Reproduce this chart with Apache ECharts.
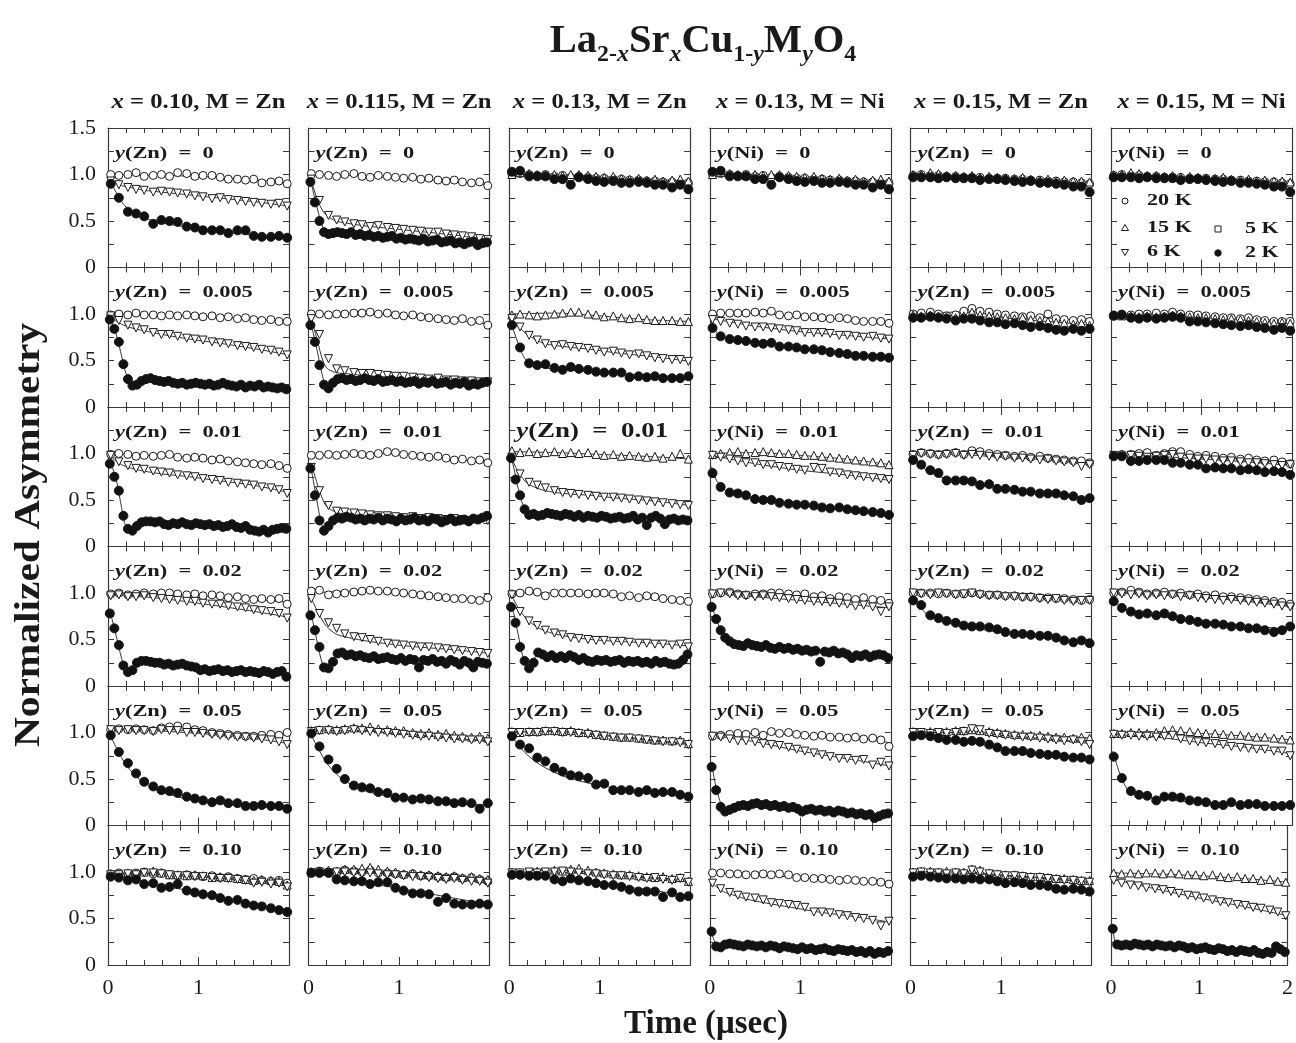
<!DOCTYPE html>
<html><head><meta charset="utf-8">
<script src="https://cdn.jsdelivr.net/npm/echarts@6/dist/echarts.min.js"></script>
<style>html,body{margin:0;padding:0;background:#fff}#c{width:1296px;height:1043px}</style>
</head><body><div id="c"></div><script>
// ---------- time grids (µs) ----------
const tS = [0.03,0.12,0.22,0.31,0.40,0.50,0.59,0.68,0.77,0.87,0.96,1.05,1.15,1.24,1.33,1.43,1.52,1.61,1.70,1.80,1.89,1.98];
const tD = [0.02,0.07,0.12,0.17,0.22,0.27,0.32,0.37,0.42,0.47,0.52,0.57,0.62,0.67,0.72,0.77,0.82,0.87,0.92,0.97,1.02,1.07,1.12,1.17,1.22,1.27,1.32,1.37,1.42,1.47,1.52,1.57,1.62,1.67,1.72,1.77,1.82,1.87,1.92,1.97];
const tF = [0.02,0.05,0.1,0.15,0.2,0.3,0.4,0.6,0.9,1.2,1.6,2.0];
const tF5 = [0.02,0.5,1.0,1.5,2.0];

const colTitles = [['0.10','Zn'],['0.115','Zn'],['0.13','Zn'],['0.13','Ni'],['0.15','Zn'],['0.15','Ni']];
const rowY = ['0','0.005','0.01','0.02','0.05','0.10'];
const yTickLabels = {0:'0', 0.5:'0.5', 1:'1.0', 1.5:'1.5'};
const xTickLabels = {0:'0', 1:'1', 2:'2'};

// ---------- data: x=0.10, Zn ----------
const p00_20=[1.00,0.99,1.00,1.02,0.98,0.99,1.00,0.98,1.02,1.01,0.98,0.99,0.99,0.97,0.95,0.95,0.94,0.95,0.91,0.92,0.93,0.90];
const p00_20f=[1.00,0.99,0.98,0.95,0.91];
const p00_6=[0.93,0.89,0.86,0.84,0.83,0.81,0.82,0.81,0.80,0.79,0.77,0.76,0.74,0.75,0.73,0.72,0.71,0.70,0.69,0.68,0.69,0.66];
const p00_6f=[0.95,0.93,0.90,0.88,0.87,0.85,0.83,0.81,0.78,0.75,0.71,0.66];
const p00_2=[0.90,0.75,0.60,0.58,0.55,0.47,0.51,0.50,0.49,0.44,0.43,0.40,0.40,0.40,0.37,0.40,0.40,0.34,0.33,0.33,0.34,0.32];
const p00_2f=[0.95,0.88,0.79,0.71,0.65,0.58,0.53,0.48,0.43,0.39,0.35,0.32];
const p01_20=[0.99,1.00,0.99,1.01,0.99,0.99,0.98,0.99,0.98,0.99,0.98,0.97,0.98,0.96,0.97,0.95,0.96,0.94,0.93,0.94,0.92,0.92];
const p01_20f=[1.00,0.99,0.98,0.95,0.92];
const p01_6=[0.98,0.93,0.88,0.85,0.83,0.80,0.78,0.78,0.76,0.74,0.73,0.72,0.70,0.69,0.68,0.66,0.65,0.64,0.62,0.61,0.59,0.56];
const p01_6f=[0.99,0.96,0.92,0.89,0.87,0.84,0.82,0.78,0.73,0.69,0.63,0.56];
const p01_2=[0.94,0.84,0.70,0.46,0.30,0.23,0.24,0.28,0.30,0.31,0.29,0.28,0.27,0.28,0.26,0.25,0.26,0.24,0.25,0.26,0.25,0.24,0.25,0.23,0.24,0.26,0.24,0.23,0.22,0.24,0.21,0.23,0.22,0.24,0.21,0.22,0.21,0.20,0.21,0.19];
const p01_2f=[0.96,0.90,0.75,0.55,0.36,0.22,0.29,0.28,0.26,0.25,0.22,0.20];
const p02_20=[0.99,1.00,0.99,0.97,0.98,0.97,0.98,0.99,0.96,0.95,0.96,0.95,0.93,0.94,0.92,0.91,0.90,0.89,0.88,0.89,0.87,0.84];
const p02_20f=[1.00,0.98,0.95,0.90,0.85];
const p02_6=[0.98,0.91,0.87,0.84,0.83,0.81,0.80,0.79,0.77,0.76,0.75,0.73,0.72,0.71,0.69,0.68,0.67,0.66,0.64,0.63,0.61,0.57];
const p02_6f=[0.99,0.95,0.91,0.88,0.86,0.83,0.81,0.78,0.75,0.71,0.66,0.58];
const p02_2=[0.89,0.75,0.60,0.33,0.19,0.17,0.22,0.26,0.27,0.27,0.26,0.27,0.24,0.23,0.25,0.24,0.26,0.24,0.23,0.25,0.24,0.23,0.24,0.22,0.23,0.21,0.22,0.24,0.21,0.20,0.22,0.18,0.17,0.16,0.18,0.15,0.18,0.19,0.20,0.19];
const p02_2f=[0.93,0.85,0.68,0.42,0.22,0.20,0.26,0.25,0.24,0.22,0.19,0.19];
const p03_20=[0.99,1.00,0.98,0.99,1.00,0.99,1.00,1.00,0.99,0.98,0.99,0.97,0.98,0.97,0.95,0.96,0.94,0.93,0.94,0.93,0.94,0.88];
const p03_20f=[1.00,0.99,0.97,0.94,0.90];
const p03_6=[0.97,0.98,0.96,0.96,0.97,0.95,0.94,0.93,0.92,0.91,0.91,0.89,0.88,0.88,0.86,0.85,0.84,0.82,0.81,0.80,0.78,0.73];
const p03_6f=[0.98,0.95,0.89,0.82,0.74];
const p03_2=[0.78,0.62,0.44,0.22,0.15,0.17,0.25,0.27,0.27,0.26,0.25,0.25,0.23,0.24,0.22,0.23,0.24,0.22,0.21,0.20,0.17,0.18,0.16,0.17,0.18,0.16,0.17,0.15,0.16,0.17,0.15,0.16,0.15,0.14,0.16,0.15,0.13,0.15,0.16,0.10];
const p03_2f=[0.80,0.70,0.50,0.30,0.17,0.22,0.25,0.23,0.20,0.17,0.15,0.14];
const p04_20=[1.03,1.04,1.03,1.04,1.03,1.02,1.05,1.06,1.07,1.06,1.03,1.02,1.00,0.99,0.98,0.97,0.96,0.96,0.97,0.98,0.97,1.00];
const p04_20f=[1.04,1.04,1.01,0.98,0.97];
const p04_6=[1.03,1.02,1.03,1.02,1.02,1.01,1.03,1.02,1.02,1.00,1.00,0.99,0.98,0.97,0.96,0.95,0.95,0.94,0.93,0.92,0.90,0.87];
const p04_6f=[1.03,1.02,0.99,0.95,0.88];
const p04_2=[0.97,0.79,0.67,0.56,0.47,0.42,0.38,0.37,0.35,0.31,0.29,0.27,0.25,0.27,0.24,0.24,0.21,0.21,0.22,0.21,0.21,0.18];
const p04_2f=[1.00,0.92,0.82,0.73,0.65,0.54,0.46,0.36,0.28,0.24,0.21,0.19];
const p05_20=[0.98,0.99,0.98,0.99,1.00,0.98,0.99,0.97,0.96,0.97,0.96,0.95,0.96,0.94,0.95,0.93,0.92,0.93,0.91,0.90,0.91,0.88];
const p05_20f=[0.99,0.98,0.95,0.92,0.88];
const p05_15=[0.97,0.98,0.99,0.98,1.00,1.01,0.99,0.97,0.97,0.96,0.97,0.96,0.94,0.95,0.94,0.93,0.92,0.91,0.92,0.91,0.90,0.86];
const p05_15f=[0.98,0.99,0.96,0.92,0.87];
const p05_6=[0.97,0.97,0.98,0.97,0.99,0.99,0.98,0.97,0.96,0.96,0.95,0.95,0.94,0.93,0.93,0.92,0.91,0.88,0.89,0.87,0.88,0.84];
const p05_6f=[0.97,0.98,0.95,0.91,0.85];
const p05_2=[0.95,0.94,0.91,0.92,0.87,0.88,0.83,0.84,0.87,0.80,0.78,0.76,0.75,0.72,0.69,0.70,0.66,0.64,0.63,0.61,0.59,0.57];
const p05_2f=[0.96,0.96,0.95,0.94,0.93,0.91,0.89,0.85,0.80,0.74,0.66,0.58];

// ---------- data: x=0.115, Zn ----------
const p10_20=[1.01,1.00,0.99,0.98,1.00,1.01,0.98,0.97,0.99,0.98,0.97,0.96,0.97,0.95,0.96,0.94,0.93,0.94,0.92,0.91,0.92,0.88];
const p10_20f=[1.00,0.99,0.96,0.93,0.89];
const p10_6=[0.95,0.72,0.56,0.51,0.49,0.47,0.46,0.44,0.45,0.43,0.42,0.41,0.40,0.39,0.38,0.38,0.36,0.35,0.34,0.33,0.31,0.30];
const p10_6f=[0.97,0.87,0.72,0.62,0.56,0.50,0.48,0.45,0.42,0.39,0.35,0.30];
const p10_2=[0.92,0.70,0.50,0.38,0.36,0.37,0.38,0.37,0.36,0.38,0.35,0.36,0.34,0.35,0.33,0.34,0.32,0.33,0.34,0.31,0.32,0.30,0.31,0.30,0.29,0.31,0.28,0.29,0.30,0.27,0.28,0.29,0.26,0.27,0.25,0.27,0.28,0.24,0.26,0.27];
const p10_2f=[0.95,0.82,0.62,0.45,0.38,0.37,0.36,0.34,0.32,0.30,0.28,0.27];
const p11_20=[1.00,1.00,0.99,1.00,1.00,1.01,1.01,1.02,1.00,1.01,0.99,0.98,0.99,0.97,0.96,0.95,0.94,0.93,0.95,0.92,0.93,0.88];
const p11_20f=[1.00,1.01,0.98,0.94,0.89];
const p11_6=[0.95,0.78,0.52,0.41,0.39,0.37,0.36,0.36,0.35,0.34,0.33,0.33,0.32,0.31,0.30,0.31,0.29,0.29,0.28,0.28,0.27,0.27];
const p11_6f=[0.96,0.88,0.70,0.52,0.42,0.37,0.36,0.34,0.32,0.30,0.28,0.27];
const p11_2=[0.88,0.70,0.45,0.24,0.20,0.26,0.30,0.31,0.29,0.30,0.28,0.29,0.31,0.29,0.28,0.30,0.27,0.28,0.29,0.27,0.28,0.26,0.27,0.28,0.25,0.27,0.26,0.28,0.25,0.26,0.27,0.24,0.26,0.25,0.27,0.23,0.25,0.24,0.26,0.27];
const p11_2f=[0.92,0.80,0.58,0.35,0.21,0.29,0.30,0.28,0.27,0.27,0.26,0.26];
const p12_20=[0.98,0.98,0.99,0.98,0.99,1.00,0.99,0.98,1.00,1.02,1.01,0.99,0.98,0.97,0.96,0.97,0.95,0.93,0.94,0.92,0.93,0.90];
const p12_20f=[0.98,0.99,1.00,0.95,0.90];
const p12_6=[0.85,0.60,0.44,0.38,0.37,0.36,0.35,0.34,0.33,0.33,0.32,0.31,0.32,0.30,0.31,0.30,0.29,0.30,0.29,0.28,0.29,0.28];
const p12_6f=[0.90,0.82,0.66,0.52,0.43,0.37,0.35,0.33,0.32,0.31,0.29,0.28];
const p12_2=[0.84,0.55,0.28,0.17,0.22,0.28,0.31,0.30,0.32,0.31,0.29,0.30,0.28,0.30,0.29,0.31,0.28,0.30,0.29,0.27,0.30,0.28,0.29,0.31,0.28,0.29,0.27,0.30,0.29,0.26,0.28,0.30,0.27,0.28,0.29,0.27,0.30,0.29,0.31,0.33];
const p12_2f=[0.88,0.72,0.45,0.22,0.20,0.30,0.31,0.29,0.29,0.29,0.29,0.30];
const p13_20=[1.02,1.03,0.98,0.99,1.00,1.01,1.02,1.03,1.02,1.02,1.01,1.00,0.99,0.98,0.97,0.96,0.95,0.94,0.94,0.93,0.92,0.95];
const p13_20f=[1.00,1.02,1.00,0.96,0.93];
const p13_6=[0.94,0.78,0.68,0.62,0.56,0.53,0.52,0.50,0.48,0.46,0.45,0.44,0.43,0.42,0.42,0.41,0.40,0.39,0.38,0.37,0.36,0.35];
const p13_6f=[0.97,0.90,0.80,0.71,0.64,0.56,0.53,0.49,0.45,0.42,0.39,0.35];
const p13_2=[0.76,0.60,0.42,0.20,0.19,0.26,0.35,0.36,0.33,0.34,0.32,0.33,0.31,0.30,0.32,0.29,0.30,0.31,0.29,0.28,0.30,0.27,0.29,0.28,0.20,0.28,0.27,0.29,0.26,0.27,0.24,0.28,0.26,0.23,0.27,0.25,0.20,0.26,0.25,0.24];
const p13_2f=[0.80,0.68,0.45,0.25,0.20,0.32,0.33,0.31,0.29,0.28,0.27,0.25];
const p14_15=[1.02,1.03,1.04,1.03,1.04,1.05,1.05,1.06,1.04,1.03,1.02,1.02,1.00,0.99,1.00,0.98,0.99,0.97,0.96,0.95,0.96,0.94];
const p14_15f=[1.03,1.05,1.02,0.98,0.94];
const p14_6=[1.01,1.02,1.02,1.01,1.02,1.03,1.02,1.01,1.00,1.00,0.99,0.98,0.97,0.96,0.96,0.95,0.94,0.93,0.93,0.92,0.92,0.90];
const p14_6f=[1.02,1.02,0.99,0.95,0.90];
const p14_2=[0.99,0.85,0.71,0.61,0.50,0.43,0.41,0.40,0.36,0.35,0.30,0.30,0.28,0.29,0.28,0.26,0.26,0.24,0.25,0.24,0.18,0.24];
const p14_2f=[1.00,0.93,0.84,0.75,0.67,0.56,0.48,0.38,0.31,0.27,0.24,0.22];
const p15_20=[1.00,1.01,1.00,1.00,1.02,1.01,1.00,1.02,0.99,0.99,0.98,0.97,0.98,0.96,0.96,0.95,0.94,0.95,0.93,0.94,0.92,0.90];
const p15_20f=[1.00,1.01,0.98,0.95,0.90];
const p15_15=[1.00,1.01,1.02,1.01,1.03,1.03,1.04,1.05,1.03,1.01,1.00,0.98,0.99,0.97,0.97,0.96,0.95,0.96,0.94,0.95,0.93,0.92];
const p15_15f=[1.01,1.03,0.99,0.96,0.92];
const p15_6=[0.99,1.00,0.99,1.00,1.00,0.99,0.98,0.99,0.98,0.97,0.97,0.96,0.95,0.95,0.94,0.93,0.92,0.93,0.91,0.90,0.90,0.88];
const p15_6f=[0.99,0.99,0.97,0.93,0.88];
const p15_2=[0.99,0.99,0.99,0.92,0.91,0.90,0.90,0.87,0.89,0.89,0.83,0.80,0.77,0.77,0.76,0.68,0.72,0.66,0.65,0.65,0.66,0.65];
const p15_2f=[0.99,0.99,0.98,0.97,0.96,0.94,0.92,0.89,0.84,0.79,0.72,0.65];

// ---------- data: x=0.13, Zn ----------
const p20_20=[1.00,1.01,1.00,0.99,1.00,0.98,0.99,0.97,0.98,0.97,0.96,0.96,0.95,0.95,0.94,0.94,0.93,0.93,0.92,0.92,0.91,0.91];
const p20_20f=[1.00,0.99,0.96,0.94,0.91];
const p20_15=[1.00,1.02,1.01,1.00,0.99,1.00,0.99,1.00,1.00,0.99,0.98,0.97,0.98,0.96,0.95,0.96,0.94,0.95,0.93,0.94,0.95,0.93];
const p20_15f=[1.01,1.00,0.98,0.95,0.93];
const p20_2=[1.03,1.04,0.98,0.98,0.98,0.95,0.95,0.89,0.97,0.95,0.93,0.92,0.93,0.91,0.91,0.92,0.91,0.89,0.89,0.86,0.89,0.84];
const p20_2f=[1.01,0.97,0.93,0.90,0.85];
const p21_15=[0.99,1.00,0.99,0.98,0.99,1.00,1.01,1.02,1.02,1.00,0.99,0.97,0.98,0.96,0.95,0.96,0.94,0.93,0.93,0.93,0.92,0.92];
const p21_15f=[1.00,1.01,0.98,0.94,0.92];
const p21_6=[0.95,0.86,0.77,0.72,0.68,0.66,0.67,0.65,0.64,0.63,0.61,0.59,0.60,0.58,0.56,0.57,0.55,0.53,0.52,0.51,0.51,0.49];
const p21_6f=[0.98,0.93,0.87,0.82,0.78,0.72,0.68,0.65,0.62,0.58,0.54,0.49];
const p21_2=[0.88,0.64,0.47,0.45,0.46,0.42,0.40,0.43,0.41,0.40,0.38,0.37,0.37,0.37,0.32,0.33,0.32,0.33,0.31,0.31,0.31,0.33];
const p21_2f=[0.92,0.82,0.68,0.56,0.49,0.44,0.42,0.40,0.38,0.36,0.34,0.32];
const p22_15=[1.03,1.01,1.02,1.00,1.01,1.02,1.00,1.01,1.00,1.01,0.99,0.98,0.99,0.97,0.98,0.97,0.96,0.97,0.95,0.97,1.00,0.94];
const p22_15f=[1.02,1.01,0.99,0.97,0.94];
const p22_6=[0.96,0.78,0.69,0.66,0.63,0.60,0.58,0.57,0.56,0.55,0.54,0.53,0.53,0.52,0.51,0.50,0.49,0.48,0.47,0.46,0.45,0.44];
const p22_6f=[0.98,0.90,0.80,0.73,0.68,0.63,0.60,0.57,0.55,0.52,0.49,0.44];
const p22_2=[0.95,0.72,0.55,0.40,0.34,0.35,0.33,0.34,0.36,0.35,0.34,0.33,0.35,0.34,0.32,0.34,0.31,0.33,0.32,0.31,0.33,0.32,0.30,0.31,0.32,0.30,0.31,0.33,0.29,0.31,0.23,0.31,0.33,0.30,0.24,0.29,0.30,0.28,0.29,0.28];
const p22_2f=[0.97,0.85,0.62,0.45,0.36,0.33,0.34,0.33,0.32,0.31,0.30,0.29];
const p23_20=[0.99,1.00,1.02,1.01,0.97,1.00,1.00,1.00,1.00,0.99,1.00,1.00,0.99,0.96,0.97,0.95,0.97,0.96,0.94,0.93,0.92,0.91];
const p23_20f=[1.00,1.00,0.98,0.95,0.91];
const p23_6=[0.98,0.80,0.70,0.65,0.60,0.57,0.55,0.52,0.51,0.50,0.49,0.49,0.48,0.48,0.47,0.46,0.46,0.45,0.45,0.44,0.45,0.42];
const p23_6f=[1.00,0.93,0.84,0.77,0.71,0.64,0.59,0.54,0.50,0.48,0.46,0.43];
const p23_2=[0.85,0.68,0.42,0.27,0.19,0.25,0.36,0.34,0.31,0.33,0.30,0.32,0.30,0.33,0.31,0.28,0.30,0.27,0.26,0.28,0.27,0.28,0.26,0.27,0.28,0.25,0.27,0.26,0.27,0.25,0.26,0.24,0.27,0.25,0.26,0.24,0.23,0.24,0.28,0.34];
const p23_2f=[0.88,0.78,0.55,0.32,0.22,0.32,0.33,0.30,0.28,0.27,0.25,0.24];
const p24_15=[1.01,1.00,1.01,1.01,1.02,1.02,1.01,1.02,1.00,1.00,0.98,0.97,0.96,0.95,0.95,0.94,0.93,0.92,0.92,0.91,0.92,0.88];
const p24_15f=[1.01,1.02,0.98,0.93,0.88];
const p24_6=[1.00,1.00,1.00,1.00,1.01,1.01,1.00,1.00,0.99,0.98,0.97,0.96,0.95,0.94,0.94,0.93,0.92,0.91,0.90,0.90,0.89,0.87];
const p24_6f=[1.00,1.01,0.97,0.92,0.87];
const p24_2=[0.96,0.87,0.83,0.73,0.69,0.62,0.58,0.54,0.53,0.51,0.44,0.45,0.38,0.38,0.38,0.36,0.38,0.35,0.36,0.36,0.33,0.31];
const p24_2f=[0.99,0.93,0.87,0.81,0.76,0.68,0.62,0.53,0.45,0.40,0.35,0.31];
const p25_15=[1.00,0.99,1.00,1.01,1.00,1.02,1.01,1.03,1.04,1.02,1.00,0.99,0.98,0.97,0.97,0.96,0.95,0.94,0.95,0.93,0.94,0.90];
const p25_15f=[1.00,1.02,0.99,0.95,0.91];
const p25_6=[0.99,0.99,1.00,0.99,1.00,1.00,1.01,1.00,0.99,0.98,0.98,0.97,0.96,0.96,0.95,0.94,0.93,0.94,0.92,0.91,0.93,0.89];
const p25_6f=[0.99,1.00,0.97,0.94,0.89];
const p25_2=[0.97,0.97,0.96,0.96,0.96,0.92,0.90,0.93,0.91,0.90,0.88,0.86,0.86,0.84,0.81,0.79,0.79,0.79,0.73,0.78,0.73,0.74];
const p25_2f=[0.98,0.98,0.97,0.97,0.96,0.95,0.94,0.92,0.89,0.85,0.80,0.74];

// ---------- data: x=0.13, Ni ----------
const p31_20=[1.00,1.01,1.01,1.01,1.01,1.02,1.01,1.03,0.99,0.98,0.99,0.97,0.97,0.96,0.95,0.96,0.95,0.93,0.92,0.92,0.92,0.90];
const p31_20f=[1.01,1.01,0.97,0.94,0.90];
const p31_6=[0.94,0.92,0.90,0.89,0.87,0.86,0.86,0.85,0.84,0.83,0.82,0.80,0.80,0.80,0.79,0.77,0.77,0.76,0.75,0.76,0.74,0.73];
const p31_6f=[0.95,0.87,0.81,0.77,0.73];
const p31_2=[0.85,0.76,0.73,0.72,0.71,0.69,0.68,0.69,0.65,0.65,0.64,0.62,0.62,0.61,0.59,0.58,0.57,0.55,0.55,0.54,0.54,0.53];
const p31_2f=[0.92,0.84,0.77,0.74,0.73,0.71,0.70,0.68,0.65,0.61,0.57,0.53];
const p32_15=[0.99,1.00,1.01,1.02,1.00,1.01,1.02,1.01,1.00,1.00,0.99,0.98,0.98,0.97,0.96,0.95,0.94,0.93,0.92,0.91,0.90,0.88];
const p32_15f=[1.00,1.01,0.98,0.94,0.88];
const p32_6=[0.98,0.96,0.94,0.92,0.90,0.90,0.88,0.88,0.86,0.85,0.83,0.82,0.85,0.84,0.80,0.79,0.77,0.76,0.75,0.74,0.73,0.72];
const p32_6f=[0.98,0.89,0.82,0.77,0.71];
const p32_2=[0.79,0.64,0.58,0.57,0.55,0.51,0.50,0.50,0.47,0.46,0.45,0.45,0.44,0.42,0.41,0.42,0.40,0.39,0.38,0.37,0.36,0.34];
const p32_2f=[0.86,0.76,0.67,0.62,0.59,0.56,0.53,0.49,0.45,0.42,0.38,0.34];
const p33_20=[0.99,1.00,1.01,0.99,0.98,0.99,0.99,1.00,1.00,0.99,0.98,0.99,0.96,0.97,0.94,0.96,0.95,0.93,0.95,0.93,0.92,0.89];
const p33_20f=[1.00,0.99,0.97,0.94,0.89];
const p33_6=[0.99,1.00,0.99,0.97,0.97,0.96,0.97,0.96,0.95,0.94,0.93,0.92,0.91,0.91,0.90,0.89,0.88,0.86,0.87,0.85,0.80,0.85];
const p33_6f=[1.00,0.96,0.92,0.88,0.84];
const p33_2=[0.85,0.72,0.60,0.52,0.48,0.45,0.44,0.43,0.46,0.44,0.43,0.42,0.44,0.41,0.40,0.42,0.40,0.41,0.39,0.40,0.38,0.39,0.37,0.38,0.26,0.37,0.36,0.38,0.35,0.36,0.34,0.30,0.33,0.32,0.34,0.31,0.33,0.34,0.33,0.30];
const p33_2f=[0.88,0.78,0.65,0.56,0.50,0.45,0.44,0.42,0.40,0.37,0.34,0.31];
const p34_20=[0.96,0.97,0.98,0.99,0.98,1.00,0.97,1.01,0.99,1.00,0.98,0.97,0.96,0.97,0.95,0.95,0.94,0.95,0.93,0.94,0.92,0.85];
const p34_20f=[0.97,0.99,0.97,0.95,0.89];
const p34_6=[0.96,0.95,0.93,0.91,0.91,0.90,0.88,0.87,0.86,0.84,0.82,0.80,0.78,0.76,0.74,0.72,0.72,0.70,0.71,0.65,0.68,0.64];
const p34_6f=[0.97,0.90,0.80,0.72,0.64];
const p34_2=[0.63,0.38,0.20,0.15,0.17,0.19,0.21,0.22,0.21,0.23,0.24,0.22,0.23,0.21,0.22,0.20,0.21,0.19,0.20,0.18,0.15,0.17,0.18,0.16,0.17,0.15,0.16,0.14,0.16,0.15,0.13,0.14,0.12,0.13,0.11,0.12,0.08,0.10,0.12,0.13];
const p34_2f=[0.68,0.50,0.30,0.18,0.17,0.20,0.21,0.20,0.18,0.15,0.13,0.12];
const p35_20=[0.99,0.99,0.98,0.98,0.97,0.97,0.98,0.97,0.98,0.97,0.94,0.94,0.93,0.93,0.92,0.91,0.92,0.91,0.90,0.90,0.89,0.87];
const p35_20f=[0.99,0.97,0.94,0.91,0.87];
const p35_6=[0.88,0.82,0.78,0.75,0.73,0.72,0.70,0.67,0.66,0.65,0.64,0.62,0.57,0.57,0.56,0.54,0.53,0.51,0.50,0.48,0.42,0.47];
const p35_6f=[0.89,0.86,0.82,0.79,0.77,0.74,0.71,0.67,0.62,0.57,0.52,0.46];
const p35_2=[0.36,0.20,0.19,0.22,0.23,0.22,0.21,0.20,0.22,0.21,0.20,0.21,0.19,0.21,0.20,0.18,0.20,0.19,0.18,0.17,0.19,0.17,0.18,0.16,0.17,0.18,0.16,0.15,0.17,0.16,0.15,0.16,0.14,0.15,0.13,0.15,0.12,0.14,0.13,0.15];
const p35_2f=[0.36,0.26,0.21,0.21,0.21,0.21,0.20,0.19,0.18,0.17,0.15,0.14];

// ---------- data: x=0.15, Zn ----------
const p40_20=[0.99,1.00,0.99,0.99,0.98,0.98,0.97,0.97,0.97,0.96,0.96,0.96,0.95,0.95,0.94,0.94,0.93,0.93,0.92,0.92,0.91,0.90];
const p40_20f=[0.99,0.98,0.96,0.93,0.90];
const p40_15=[1.00,1.00,1.02,1.01,0.99,0.99,0.98,0.99,0.97,0.98,0.97,0.96,0.96,0.97,0.95,0.94,0.95,0.93,0.94,0.93,0.93,0.92];
const p40_15f=[1.00,0.99,0.96,0.94,0.92];
const p40_2=[0.97,0.97,0.97,0.96,0.97,0.96,0.96,0.96,0.94,0.95,0.95,0.94,0.93,0.92,0.93,0.91,0.91,0.90,0.89,0.87,0.87,0.81];
const p40_2f=[0.98,0.96,0.94,0.91,0.84];
const p41_20=[1.00,1.01,1.02,1.00,0.98,0.99,1.03,1.06,1.03,1.02,1.00,0.99,0.98,0.97,0.98,0.96,1.00,0.95,0.94,0.93,0.94,0.92];
const p41_20f=[1.00,1.02,0.99,0.96,0.92];
const p41_15=[0.99,0.98,0.99,0.98,0.97,0.96,0.98,1.02,0.99,0.98,0.97,0.96,0.95,0.96,0.94,0.93,0.92,0.91,0.90,0.89,0.90,0.88];
const p41_15f=[0.99,0.98,0.96,0.92,0.88];
const p41_2=[0.96,0.96,0.97,0.96,0.95,0.93,0.95,0.95,0.93,0.91,0.91,0.89,0.90,0.88,0.86,0.87,0.85,0.83,0.82,0.84,0.82,0.84];
const p41_2f=[0.97,0.95,0.90,0.86,0.83];
const p42_20=[0.99,1.01,1.00,0.99,1.00,1.01,0.99,1.03,1.02,1.00,0.99,0.98,0.97,0.98,0.96,0.97,0.95,0.94,0.93,0.92,0.92,0.90];
const p42_20f=[1.00,1.01,0.98,0.95,0.90];
const p42_6=[0.98,1.00,0.99,0.98,0.99,1.00,0.98,0.99,0.98,0.97,0.96,0.97,0.95,0.95,0.94,0.93,0.94,0.92,0.91,0.90,0.86,0.88];
const p42_6f=[0.99,0.99,0.96,0.93,0.88];
const p42_2=[0.93,0.88,0.82,0.79,0.71,0.71,0.71,0.70,0.66,0.67,0.62,0.62,0.61,0.59,0.59,0.57,0.57,0.57,0.55,0.54,0.50,0.52];
const p42_2f=[0.96,0.93,0.88,0.84,0.81,0.76,0.73,0.69,0.64,0.60,0.56,0.51];
const p43_20=[1.00,1.00,1.00,0.99,1.00,0.99,0.99,1.00,0.99,0.98,0.98,0.97,0.97,0.96,0.96,0.95,0.95,0.94,0.94,0.93,0.92,0.93];
const p43_20f=[1.00,0.99,0.97,0.95,0.92];
const p43_6=[1.00,0.99,0.98,1.00,0.99,0.98,0.99,1.00,0.98,0.97,0.97,0.96,0.96,0.95,0.95,0.94,0.93,0.94,0.92,0.91,0.92,0.92];
const p43_6f=[1.00,0.99,0.96,0.94,0.91];
const p43_2=[0.92,0.87,0.76,0.73,0.70,0.68,0.65,0.64,0.64,0.63,0.61,0.58,0.56,0.56,0.55,0.54,0.54,0.52,0.49,0.47,0.49,0.46];
const p43_2f=[0.95,0.92,0.86,0.80,0.76,0.71,0.68,0.64,0.59,0.55,0.51,0.46];
const p44_15=[1.01,1.00,1.01,1.00,1.01,1.02,1.02,1.03,1.02,1.01,1.00,0.99,0.98,0.98,0.97,0.97,0.96,0.95,0.95,0.94,0.95,0.94];
const p44_15f=[1.01,1.02,0.99,0.97,0.94];
const p44_6=[1.00,1.00,0.99,1.00,0.99,1.00,1.01,1.04,1.03,0.99,0.98,0.97,0.96,0.95,0.95,0.94,0.93,0.92,0.91,0.92,0.90,0.87];
const p44_6f=[1.00,1.00,0.97,0.93,0.88];
const p44_2=[0.96,0.97,0.96,0.94,0.92,0.92,0.90,0.91,0.90,0.87,0.84,0.80,0.80,0.80,0.78,0.77,0.76,0.76,0.74,0.73,0.73,0.71];
const p44_2f=[0.98,0.92,0.83,0.76,0.71];
const p45_15=[1.00,1.01,1.01,1.00,1.01,1.00,1.00,1.03,1.02,0.99,0.98,0.97,0.97,0.96,0.95,0.95,0.94,0.93,0.93,0.92,0.91,0.91];
const p45_15f=[1.00,1.01,0.97,0.94,0.91];
const p45_6=[0.99,1.00,0.99,0.99,0.98,0.99,0.98,1.02,1.00,0.98,0.97,0.96,0.96,0.95,0.94,0.94,0.93,0.92,0.91,0.91,0.90,0.89];
const p45_6f=[0.99,0.99,0.96,0.93,0.89];
const p45_2=[0.95,0.96,0.95,0.94,0.93,0.93,0.92,0.93,0.92,0.92,0.90,0.88,0.89,0.88,0.86,0.86,0.85,0.82,0.81,0.82,0.81,0.79];
const p45_2f=[0.96,0.93,0.88,0.84,0.79];

// ---------- data: x=0.15, Ni ----------
const p51_20=[0.99,1.00,0.99,1.00,1.00,1.01,1.00,1.02,1.00,0.99,0.99,0.98,0.97,0.96,0.96,0.95,0.96,0.94,0.93,0.92,0.92,0.92];
const p51_20f=[1.00,1.00,0.98,0.95,0.92];
const p51_15=[0.99,0.98,0.98,0.97,0.98,0.97,0.98,0.99,0.98,0.97,0.96,0.96,0.95,0.94,0.95,0.94,0.93,0.92,0.91,0.90,0.91,0.90];
const p51_15f=[0.99,0.97,0.96,0.93,0.90];
const p51_2=[0.98,0.99,0.96,0.95,0.96,0.95,0.96,0.97,0.96,0.92,0.92,0.91,0.90,0.89,0.88,0.87,0.88,0.86,0.85,0.83,0.85,0.82];
const p51_2f=[0.98,0.96,0.91,0.87,0.83];
const p52_20=[0.98,0.99,0.99,1.00,1.01,0.98,1.00,1.02,1.02,0.99,0.97,0.98,0.97,0.95,0.96,0.94,0.95,0.93,0.92,0.93,0.91,0.89];
const p52_20f=[0.99,1.00,0.97,0.94,0.89];
const p52_6=[0.98,0.97,0.98,0.97,0.96,0.97,0.98,0.99,0.96,0.95,0.94,0.94,0.93,0.92,0.92,0.91,0.90,0.90,0.89,0.88,0.87,0.88];
const p52_6f=[0.98,0.97,0.94,0.91,0.87];
const p52_2=[0.97,0.97,0.92,0.92,0.93,0.93,0.93,0.90,0.90,0.88,0.88,0.84,0.85,0.84,0.84,0.82,0.83,0.82,0.80,0.81,0.80,0.77];
const p52_2f=[0.97,0.93,0.87,0.83,0.78];
const p53_20=[1.00,1.01,1.03,1.01,0.99,1.00,1.01,0.99,1.00,0.98,0.99,0.97,0.98,0.96,0.96,0.95,0.94,0.93,0.92,0.91,0.90,0.88];
const p53_20f=[1.01,1.00,0.98,0.94,0.88];
const p53_6=[1.00,0.99,0.98,0.99,0.97,0.98,0.97,0.98,0.96,0.97,0.95,0.94,0.93,0.92,0.93,0.92,0.91,0.90,0.89,0.88,0.86,0.85];
const p53_6f=[1.00,0.98,0.95,0.91,0.85];
const p53_2=[0.91,0.84,0.80,0.77,0.78,0.76,0.78,0.75,0.72,0.71,0.69,0.67,0.67,0.66,0.64,0.64,0.62,0.62,0.60,0.58,0.60,0.64];
const p53_2f=[0.94,0.90,0.86,0.83,0.81,0.79,0.77,0.74,0.71,0.68,0.64,0.61];
const p54_15=[0.99,0.99,1.00,1.00,0.99,1.00,1.02,1.03,1.02,1.01,1.00,0.99,0.99,0.98,0.97,0.97,0.96,0.95,0.95,0.94,0.93,0.92];
const p54_15f=[0.99,1.01,0.99,0.96,0.92];
const p54_6=[0.98,0.97,0.97,0.96,0.96,0.95,0.96,0.97,0.93,0.91,0.90,0.89,0.88,0.87,0.85,0.84,0.83,0.82,0.82,0.80,0.80,0.75];
const p54_6f=[0.98,0.95,0.89,0.84,0.77];
const p54_2=[0.74,0.51,0.37,0.33,0.32,0.27,0.31,0.31,0.30,0.27,0.26,0.25,0.22,0.22,0.25,0.22,0.23,0.23,0.21,0.21,0.21,0.22];
const p54_2f=[0.80,0.70,0.55,0.44,0.37,0.32,0.30,0.28,0.25,0.23,0.22,0.21];
const p55_15=[0.99,0.98,0.99,0.98,0.99,0.99,0.98,0.99,0.98,0.97,0.97,0.96,0.97,0.95,0.94,0.95,0.93,0.93,0.91,0.92,0.90,0.89];
const p55_15f=[0.99,0.98,0.96,0.93,0.89];
const p55_6=[0.91,0.88,0.86,0.85,0.83,0.82,0.81,0.79,0.77,0.75,0.74,0.72,0.70,0.68,0.67,0.65,0.64,0.62,0.61,0.59,0.57,0.53];
const p55_6f=[0.92,0.82,0.72,0.63,0.53];
const p55_2=[0.39,0.22,0.21,0.22,0.21,0.23,0.22,0.21,0.22,0.20,0.22,0.21,0.20,0.21,0.19,0.21,0.20,0.18,0.19,0.17,0.18,0.19,0.17,0.16,0.18,0.17,0.15,0.16,0.14,0.16,0.15,0.14,0.16,0.13,0.12,0.14,0.13,0.20,0.17,0.14];
const p55_2f=[0.40,0.24,0.21,0.21,0.21,0.21,0.21,0.20,0.18,0.17,0.15,0.14];

// panel contents [column][row] -> list of [temperature, points, fit]
const panelData = [
 [ [['K20',p00_20,p00_20f],['K6',p00_6,p00_6f],['K2',p00_2,p00_2f]],
   [['K20',p01_20,p01_20f],['K6',p01_6,p01_6f],['K2',p01_2,p01_2f]],
   [['K20',p02_20,p02_20f],['K6',p02_6,p02_6f],['K2',p02_2,p02_2f]],
   [['K20',p03_20,p03_20f],['K6',p03_6,p03_6f],['K2',p03_2,p03_2f]],
   [['K20',p04_20,p04_20f],['K6',p04_6,p04_6f],['K2',p04_2,p04_2f]],
   [['K20',p05_20,p05_20f],['K15',p05_15,p05_15f],['K6',p05_6,p05_6f],['K2',p05_2,p05_2f]] ],
 [ [['K20',p10_20,p10_20f],['K6',p10_6,p10_6f],['K2',p10_2,p10_2f]],
   [['K20',p11_20,p11_20f],['K6',p11_6,p11_6f],['K2',p11_2,p11_2f]],
   [['K20',p12_20,p12_20f],['K6',p12_6,p12_6f],['K2',p12_2,p12_2f]],
   [['K20',p13_20,p13_20f],['K6',p13_6,p13_6f],['K2',p13_2,p13_2f]],
   [['K15',p14_15,p14_15f],['K6',p14_6,p14_6f],['K2',p14_2,p14_2f]],
   [['K20',p15_20,p15_20f],['K15',p15_15,p15_15f],['K6',p15_6,p15_6f],['K2',p15_2,p15_2f]] ],
 [ [['K20',p20_20,p20_20f],['K15',p20_15,p20_15f],['K2',p20_2,p20_2f]],
   [['K15',p21_15,p21_15f],['K6',p21_6,p21_6f],['K2',p21_2,p21_2f]],
   [['K15',p22_15,p22_15f],['K6',p22_6,p22_6f],['K2',p22_2,p22_2f]],
   [['K20',p23_20,p23_20f],['K6',p23_6,p23_6f],['K2',p23_2,p23_2f]],
   [['K15',p24_15,p24_15f],['K6',p24_6,p24_6f],['K2',p24_2,p24_2f]],
   [['K15',p25_15,p25_15f],['K6',p25_6,p25_6f],['K2',p25_2,p25_2f]] ],
 [ [['K20',p20_20,p20_20f],['K15',p20_15,p20_15f],['K2',p20_2,p20_2f]],
   [['K20',p31_20,p31_20f],['K6',p31_6,p31_6f],['K2',p31_2,p31_2f]],
   [['K15',p32_15,p32_15f],['K6',p32_6,p32_6f],['K2',p32_2,p32_2f]],
   [['K20',p33_20,p33_20f],['K6',p33_6,p33_6f],['K2',p33_2,p33_2f]],
   [['K20',p34_20,p34_20f],['K6',p34_6,p34_6f],['K2',p34_2,p34_2f]],
   [['K20',p35_20,p35_20f],['K6',p35_6,p35_6f],['K2',p35_2,p35_2f]] ],
 [ [['K20',p40_20,p40_20f],['K15',p40_15,p40_15f],['K2',p40_2,p40_2f]],
   [['K20',p41_20,p41_20f],['K15',p41_15,p41_15f],['K2',p41_2,p41_2f]],
   [['K20',p42_20,p42_20f],['K6',p42_6,p42_6f],['K2',p42_2,p42_2f]],
   [['K20',p43_20,p43_20f],['K6',p43_6,p43_6f],['K2',p43_2,p43_2f]],
   [['K15',p44_15,p44_15f],['K6',p44_6,p44_6f],['K2',p44_2,p44_2f]],
   [['K15',p45_15,p45_15f],['K6',p45_6,p45_6f],['K2',p45_2,p45_2f]] ],
 [ [['K20',p40_20,p40_20f],['K15',p40_15,p40_15f],['K2',p40_2,p40_2f]],
   [['K20',p51_20,p51_20f],['K15',p51_15,p51_15f],['K2',p51_2,p51_2f]],
   [['K20',p52_20,p52_20f],['K6',p52_6,p52_6f],['K2',p52_2,p52_2f]],
   [['K20',p53_20,p53_20f],['K6',p53_6,p53_6f],['K2',p53_2,p53_2f]],
   [['K15',p54_15,p54_15f],['K6',p54_6,p54_6f],['K2',p54_2,p54_2f]],
   [['K15',p55_15,p55_15f],['K6',p55_6,p55_6f],['K2',p55_2,p55_2f]] ]
];

// ---------- layout & style ----------
const SERIF = 'Liberation Serif';
const G_LEFT = 108, G_STEP = 200.6, G_W = 181, G_TOP = 128, G_H = 139.5;
const INK = '#1a1a1a', AXIS = '#3a3a3a';
const STYLE = {
  K20:{symbol:'circle', size:8, fill:'#fff', rot:0},
  K15:{symbol:'triangle', size:8, fill:'#fff', rot:0},
  K6:{symbol:'triangle', size:8, fill:'#fff', rot:180},
  K2:{symbol:'circle', size:9, fill:'#111', rot:0}
};
const pts = v => v.map((y,i) => [(v.length===40?tD:tS)[i], y]);
const fitPts = v => v.map((y,i) => [(v.length===5?tF5:tF)[i], y]);

const grid=[], xAxis=[], yAxis=[], series=[], graphic=[];
for (let c=0;c<6;c++) for (let r=0;r<6;r++) {
  const g = grid.length;
  const L = G_LEFT + c*G_STEP, T = G_TOP + r*G_H;
  grid.push({left:L, top:T, width:G_W, height:G_H});
  const line = {show:true, onZero:false, lineStyle:{color:AXIS, width:1.2}};
  ['bottom','top'].forEach(pos => xAxis.push({
    gridIndex:g, type:'value', min:0, max:2, interval:1, position:pos,
    axisLine:line, splitLine:{show:false},
    axisTick:{show:true, inside:true, length:8, lineStyle:{color:AXIS}},
    minorTick:{show:true, splitNumber:5, length:5, lineStyle:{color:AXIS}},
    axisLabel:{show: pos==='bottom' && r===5, margin:12, fontFamily:SERIF, fontSize:22, color:INK,
      formatter: v => (v===2 && c<5) ? '' : xTickLabels[v]}
  }));
  ['left','right'].forEach(pos => yAxis.push({
    gridIndex:g, type:'value', min:0, max:1.5, interval:0.5, position:pos,
    axisLine:line, splitLine:{show:false},
    axisTick:{show:true, inside:true, length:6, lineStyle:{color:AXIS}},
    minorTick:{show:true, splitNumber:2, length:6, lineStyle:{color:AXIS}},
    axisLabel:{show: pos==='left' && c===0, margin:12, fontFamily:SERIF, fontSize:22, color:INK,
      formatter: v => (v===1.5 && r>0) ? '' : yTickLabels[v]}
  }));
  const list = panelData[c][r];
  list.forEach(([k,vals,fit]) => series.push({
    type:'line', xAxisIndex:2*g, yAxisIndex:2*g, data:fitPts(fit), showSymbol:false, smooth:0.3,
    lineStyle:{color:'#333', width:1}, silent:true, z:2, animation:false
  }));
  list.forEach(([k,vals]) => { const s = STYLE[k]; series.push({
    type:'scatter', xAxisIndex:2*g, yAxisIndex:2*g, data:pts(vals), symbol:s.symbol, symbolSize:s.size, symbolRotate:s.rot,
    itemStyle:{color:s.fill, borderColor:'#1a1a1a', borderWidth:1, opacity:1}, silent:true, z:k==='K2'?4:3, animation:false
  }); });
  // panel label
  const big = (c===2 && r===2);
  graphic.push({type:'text', x:L+7, y:T+25, scaleX:1.28, z:10, style:{
    text:'{i|y}{n|(' + colTitles[c][1] + ')  =  ' + rowY[r] + '}', verticalAlign:'middle',
    rich:{i:{fontFamily:SERIF, fontWeight:'bold', fontStyle:'italic', fontSize:big?21:17.5, fill:INK},
          n:{fontFamily:SERIF, fontWeight:'bold', fontSize:big?21:17.5, fill:INK}}}});
}

// column headers
colTitles.forEach(([x,m],c) => graphic.push({type:'text', x:G_LEFT + c*G_STEP + G_W/2, y:102, scaleX:1.12, style:{
  text:'{i|x}{n| = ' + x + ', M = ' + m + '}', align:'center', verticalAlign:'middle',
  rich:{i:{fontFamily:SERIF, fontWeight:'bold', fontStyle:'italic', fontSize:22, fill:INK},
        n:{fontFamily:SERIF, fontWeight:'bold', fontSize:22, fill:INK}}}}));

// main title
graphic.push({type:'text', x:703, y:42, scaleX:1.04, style:{
  text:'{b|La}{s|2-}{si|x}{b|Sr}{si|x}{b|Cu}{s|1-}{si|y}{b|M}{si|y}{b|O}{s|4}', align:'center', verticalAlign:'middle',
  rich:{b:{fontFamily:SERIF, fontWeight:'bold', fontSize:39, lineHeight:50, fill:INK},
        s:{fontFamily:SERIF, fontWeight:'bold', fontSize:23, lineHeight:50, verticalAlign:'bottom', fill:INK},
        si:{fontFamily:SERIF, fontWeight:'bold', fontStyle:'italic', fontSize:23, lineHeight:50, verticalAlign:'bottom', fill:INK}}}});

// axis titles
graphic.push({type:'text', x:30, y:535, rotation:Math.PI/2, scaleX:1.15, style:{
  text:'Normalized Asymmetry', align:'center', verticalAlign:'middle',
  font:'bold 36px "Liberation Serif"', fill:INK}});
graphic.push({type:'text', x:706, y:1024, style:{
  text:'Time (\u03bcsec)', align:'center', verticalAlign:'middle',
  font:'bold 33px "Liberation Serif"', fill:INK}});

// legend in the last column, first row
const LF = 'bold 17px "Liberation Serif"';
const lg = [
  ['K20', 1125, 201, '20 K', 1147], ['K15', 1125, 228, '15 K', 1147], ['K5', 1218, 229, '5 K', 1245],
  ['K6', 1125, 252, '6 K', 1147], ['K2', 1218, 253, '2 K', 1245]
];
lg.forEach(([k,sx,sy,t,tx]) => {
  if (k==='K20') graphic.push({type:'circle', z:10, shape:{cx:sx, cy:sy, r:3}, style:{fill:'#fff', stroke:INK, lineWidth:1}});
  if (k==='K2') graphic.push({type:'circle', z:10, shape:{cx:sx, cy:sy, r:3.2}, style:{fill:'#111', stroke:INK, lineWidth:1}});
  if (k==='K15') graphic.push({type:'polygon', z:10, shape:{points:[[sx,sy-3.5],[sx-3.5,sy+2.5],[sx+3.5,sy+2.5]]}, style:{fill:'#fff', stroke:INK, lineWidth:1}});
  if (k==='K6') graphic.push({type:'polygon', z:10, shape:{points:[[sx,sy+3.5],[sx-3.5,sy-2.5],[sx+3.5,sy-2.5]]}, style:{fill:'#fff', stroke:INK, lineWidth:1}});
  if (k==='K5') graphic.push({type:'rect', z:10, shape:{x:sx-3, y:sy-3, width:6, height:6}, style:{fill:'#fff', stroke:INK, lineWidth:1}});
  graphic.push({type:'text', x:tx, y:sy, scaleX:1.3, z:10, style:{text:t, font:LF, fill:INK, verticalAlign:'middle'}});
});

const chart = echarts.init(document.getElementById('c'), null, {renderer:'canvas'});
chart.setOption({animation:false, backgroundColor:'#fff', grid, xAxis, yAxis, series, graphic});
</script></body></html>
